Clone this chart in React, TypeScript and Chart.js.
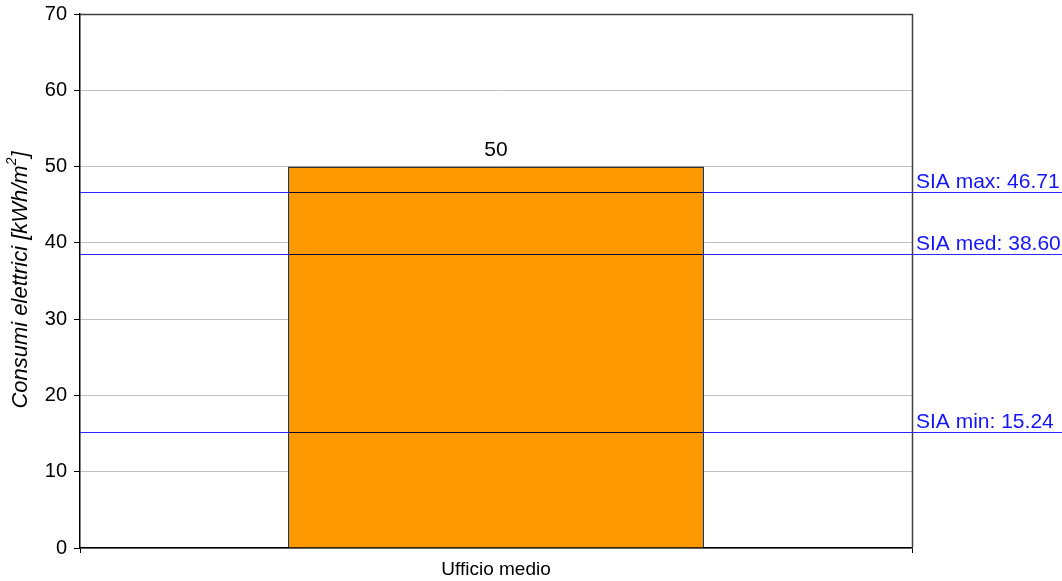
import React, { useEffect, useRef } from "react";
import { Chart, registerables } from "chart.js";

Chart.register(...registerables);

// Data
const categories: string[] = ["Ufficio medio"];
const consumption: number[] = [50];

// SIA reference values
const refLabels: string[] = ["SIA max", "SIA med", "SIA min"];
const refValues: number[] = [46.71, 38.6, 15.24];

const yTitleMain = "Consumi elettrici [kWh/m";
const yTitleSup = "2";
const yTitleEnd = "]";

const FONT = "'Liberation Sans', Arial, Helvetica, sans-serif";
const BAR_FRACTION = 0.5;

const frameAndLabels = {
  id: "frameAndLabels",
  beforeDatasetsDraw(chart: any) {
    const { ctx, chartArea } = chart;
    ctx.save();
    // plot box (top and right in dark grey)
    ctx.strokeStyle = "#404040";
    ctx.lineWidth = 1.5;
    ctx.beginPath();
    ctx.moveTo(chartArea.left, chartArea.top + 0.5);
    ctx.lineTo(chartArea.right + 0.5, chartArea.top + 0.5);
    ctx.lineTo(chartArea.right + 0.5, chartArea.bottom);
    ctx.stroke();
    ctx.restore();
  },
  afterDraw(chart: any) {
    const { ctx, chartArea, scales } = chart;
    const yScale = scales.y;
    const xScale = scales.x;
    const cx = xScale.getPixelForValue(0);
    const barW = (xScale.width / categories.length) * BAR_FRACTION;
    const bx0 = cx - barW / 2;
    const bx1 = cx + barW / 2;
    const barTop = yScale.getPixelForValue(consumption[0]);
    const W = chart.width;

    ctx.save();
    // reference lines
    refValues.forEach((v, i) => {
      const y = Math.round(yScale.getPixelForValue(v)) + 0.5;
      ctx.lineWidth = 1;
      ctx.strokeStyle = "#2a2aff";
      ctx.beginPath();
      ctx.moveTo(chartArea.left, y);
      ctx.lineTo(W, y);
      ctx.stroke();
      // darker segment where the line crosses the bar
      if (v <= consumption[0]) {
        ctx.strokeStyle = "#0c0630";
        ctx.lineWidth = 1.2;
        ctx.beginPath();
        ctx.moveTo(bx0 + 1, y);
        ctx.lineTo(bx1 - 1, y);
        ctx.stroke();
      }

      ctx.fillStyle = "#1414ff";
      ctx.font = `21px ${FONT}`;
      ctx.textAlign = "left";
      ctx.textBaseline = "alphabetic";
      ctx.fillText(`${refLabels[i]}: ${v.toFixed(2)}`, chartArea.right + 4, y - 5);
    });

    // value label above the bar
    ctx.fillStyle = "#000";
    ctx.font = `21px ${FONT}`;
    ctx.textAlign = "center";
    ctx.textBaseline = "alphabetic";
    ctx.fillText(String(consumption[0]), cx, barTop - 11);

    // rotated y axis title with superscript
    ctx.translate(21, (chartArea.top + chartArea.bottom) / 2 - 1);
    ctx.rotate(-Math.PI / 2);
    const mainFont = `italic 22px ${FONT}`;
    const supFont = `italic 14px ${FONT}`;
    ctx.font = mainFont;
    const w1 = ctx.measureText(yTitleMain).width;
    ctx.font = supFont;
    const w2 = ctx.measureText(yTitleSup).width;
    ctx.font = mainFont;
    const w3 = ctx.measureText(yTitleEnd).width;
    const total = w1 + w2 + w3;
    let x = -total / 2;
    ctx.textAlign = "left";
    ctx.textBaseline = "middle";
    ctx.fillText(yTitleMain, x, 0);
    x += w1;
    ctx.font = supFont;
    ctx.fillText(yTitleSup, x, -9);
    x += w2;
    ctx.font = mainFont;
    ctx.fillText(yTitleEnd, x, 0);
    ctx.restore();
  },
};

export default function App() {
  const ref = useRef<HTMLCanvasElement | null>(null);

  useEffect(() => {
    document.body.style.margin = "0";
    const canvas = ref.current;
    if (!canvas) return;
    const chart = new Chart(canvas, {
      type: "bar",
      data: {
        labels: categories,
        datasets: [
          {
            data: consumption,
            backgroundColor: "#FF9900",
            borderColor: "#333333",
            borderWidth: 1.5,
            barPercentage: BAR_FRACTION,
            categoryPercentage: 1,
          },
        ],
      },
      options: {
        animation: false,
        responsive: false,
        devicePixelRatio: 1,
        layout: { padding: { top: 14, right: 150, left: 0, bottom: 0 } },
        plugins: {
          legend: { display: false },
          tooltip: { enabled: false },
          title: { display: false },
        },
        scales: {
          x: {
            grid: {
              drawOnChartArea: false,
              tickLength: 5,
              tickColor: "#000",
              offset: true,
            },
            border: { color: "#000", width: 1.5 },
            ticks: {
              color: "#000",
              font: { family: FONT, size: 19 },
              padding: 5,
            },
            afterFit(scale: any) {
              scale.height = 33;
              scale.paddingLeft = 0;
              scale.paddingRight = 0;
            },
          },
          y: {
            min: 0,
            max: 70,
            ticks: {
              stepSize: 10,
              color: "#000",
              font: { family: FONT, size: 20 },
              padding: 7,
            },
            grid: {
              color: "#c0c0c0",
              lineWidth: 1,
              tickLength: 6,
              tickColor: "#000",
            },
            border: { color: "#000", width: 1.5 },
            afterFit(scale: any) {
              scale.width = 80;
              scale.paddingTop = 0;
              scale.paddingBottom = 0;
            },
          },
        },
      },
      plugins: [frameAndLabels],
    });
    return () => chart.destroy();
  }, []);

  return (
    <div style={{ position: "fixed", left: 0, top: 0, width: 1062, height: 581, background: "#fff" }}>
      <canvas ref={ref} width={1062} height={581} style={{ width: 1062, height: 581 }} />
    </div>
  );
}
